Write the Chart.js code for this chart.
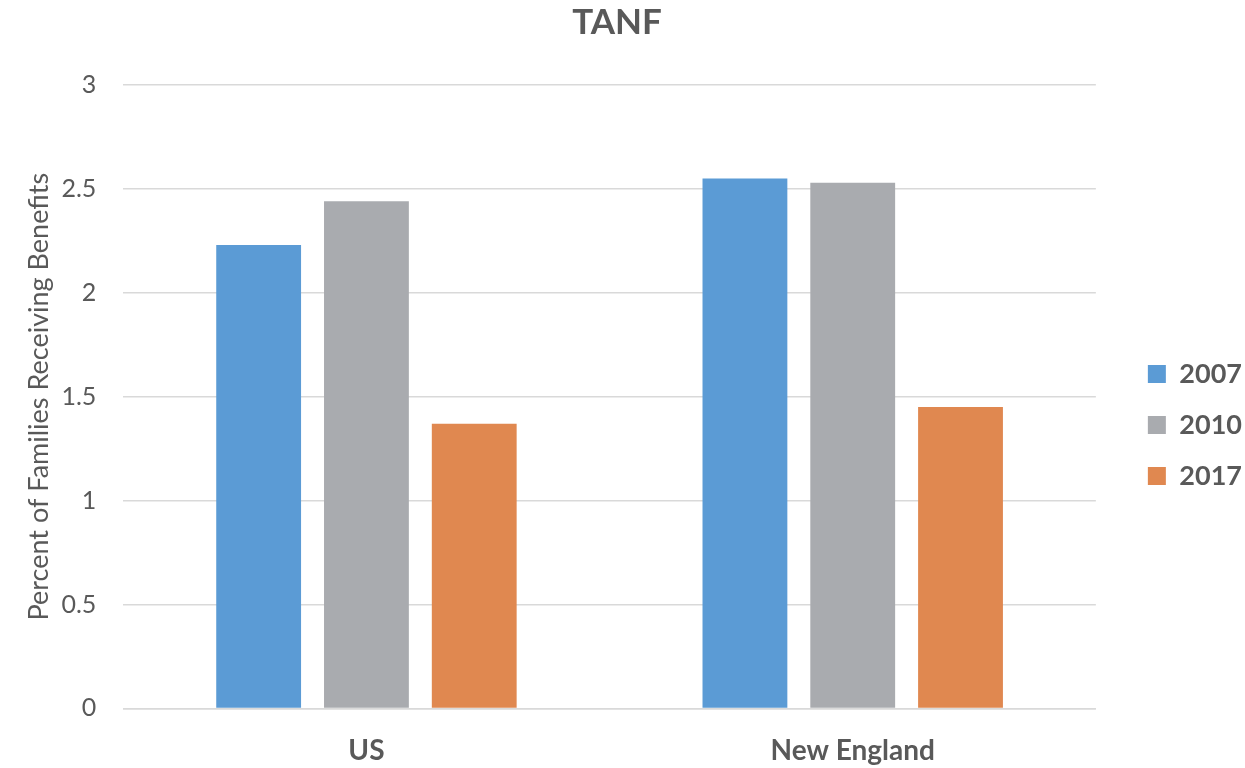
<!DOCTYPE html>
<html>
<head>
<meta charset="utf-8">
<script src="https://cdn.jsdelivr.net/npm/chart.js@4"></script>
<style>
  html, body { margin: 0; padding: 0; background: #ffffff; }
  #wrap { width: 1245px; height: 768px; position: relative; }
</style>
</head>
<body>
<div id="wrap"><canvas id="chart"></canvas></div>
<script>
// TANF receipt, percent of families
const categories = ['US', 'New England'];
const seriesNames = ['2007', '2010', '2017'];
const values2007 = [2.23, 2.55];
const values2010 = [2.44, 2.53];
const values2017 = [1.37, 1.45];
const yTicks = [0, 0.5, 1, 1.5, 2, 2.5, 3];

const colors = ['#5b9bd5', '#a9abaf', '#e08850'];
const textColor = '#595959';
const fontFamily = 'Lato, "Open Sans", sans-serif';

const X_TICK_PAD = 26;
const Y_TICK_PAD = 27;

// Nudge the right-hand legend so it sits beside the middle of the plot
const legendOffset = {
  id: 'legendOffset',
  afterLayout(chart) {
    const lg = chart.legend;
    if (!lg) return;
    const dx = 28, dy = 41;
    lg.left += dx; lg.right += dx;
    lg.top += dy; lg.bottom += dy;
  }
};

const chart = new Chart(document.getElementById('chart'), {
  type: 'bar',
  data: {
    labels: categories,
    datasets: [values2007, values2010, values2017].map((vals, i) => ({
      label: seriesNames[i],
      data: vals,
      backgroundColor: colors[i],
      borderWidth: 0,
      categoryPercentage: 0.665,
      barPercentage: 0.787
    }))
  },
  plugins: [legendOffset],
  options: {
    responsive: true,
    maintainAspectRatio: false,
    animation: false,
    layout: { padding: { left: 10, right: 21, top: 0, bottom: 0 } },
    plugins: {
      title: {
        display: true,
        text: 'TANF',
        color: textColor,
        font: { family: fontFamily, size: 35, weight: 'bold' },
        padding: { top: 2, bottom: 41 }
      },
      legend: {
        position: 'right',
        labels: {
          color: textColor,
          font: { family: fontFamily, size: 27, weight: 'bold' },
          boxWidth: 18,
          boxHeight: 18,
          padding: 24
        }
      },
      tooltip: { enabled: false }
    },
    scales: {
      x: {
        grid: { display: false, drawTicks: false },
        border: { display: true, color: '#d9d9d9', width: 1.5 },
        // tick padding is only wanted on the inner side of the labels
        afterFit: (scale) => { scale.height -= X_TICK_PAD; },
        ticks: {
          color: textColor,
          font: { family: fontFamily, size: 28, weight: 'bold' },
          padding: X_TICK_PAD
        }
      },
      y: {
        min: 0,
        max: 3,
        afterBuildTicks: (scale) => { scale.ticks = yTicks.map(v => ({ value: v })); },
        afterFit: (scale) => { scale.width -= Y_TICK_PAD; },
        grid: { color: '#d9d9d9', lineWidth: 1.5, drawTicks: false },
        border: { display: false },
        title: {
          display: true,
          text: 'Percent of Families Receiving Benefits',
          color: textColor,
          font: { family: fontFamily, size: 27 },
          padding: { top: 13, bottom: 6 }
        },
        ticks: {
          color: textColor,
          font: { family: fontFamily, size: 25 },
          padding: Y_TICK_PAD,
          callback: (v) => String(v)
        }
      }
    }
  }
});
</script>
</body>
</html>
